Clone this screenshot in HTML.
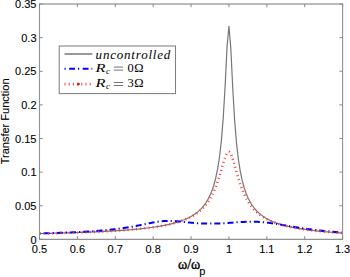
<!DOCTYPE html>
<html><head><meta charset="utf-8"><style>
html,body{margin:0;padding:0;background:#fff;}
body{width:350px;height:277px;overflow:hidden;}
svg{display:block;}
text{font-family:"Liberation Sans",sans-serif;font-size:11px;fill:#000;stroke:#000;stroke-width:0.1px;}
.ser{font-family:"Liberation Serif",serif;stroke:none;}
</style></head><body>
<svg width="350" height="277" viewBox="0 0 350 277">
<rect width="350" height="277" fill="#fff"/>
<g fill="none" stroke-linejoin="round">
<path d="M39.50,233.56 L41.39,233.52 L43.29,233.48 L45.18,233.44 L47.08,233.40 L48.97,233.36 L50.87,233.31 L52.76,233.27 L54.66,233.22 L56.55,233.17 L58.44,233.12 L60.34,233.07 L62.23,233.02 L64.13,232.97 L66.02,232.92 L67.92,232.86 L69.81,232.80 L71.70,232.74 L73.60,232.68 L75.49,232.62 L77.39,232.56 L79.28,232.49 L81.18,232.43 L83.07,232.36 L84.97,232.29 L86.86,232.22 L88.75,232.14 L90.65,232.06 L92.54,231.99 L94.44,231.90 L96.33,231.82 L98.23,231.73 L100.12,231.64 L102.01,231.55 L103.91,231.46 L105.80,231.36 L107.70,231.26 L109.59,231.15 L111.49,231.05 L113.38,230.93 L115.27,230.82 L117.17,230.70 L119.06,230.57 L120.96,230.45 L122.85,230.31 L124.75,230.17 L126.64,230.03 L128.54,229.88 L130.43,229.73 L132.32,229.57 L134.22,229.40 L136.11,229.22 L138.01,229.04 L139.90,228.85 L141.80,228.65 L143.69,228.45 L145.59,228.23 L147.48,228.00 L149.37,227.76 L151.27,227.51 L153.16,227.25 L155.06,226.97 L156.95,226.68 L158.85,226.38 L160.74,226.05 L162.63,225.71 L164.53,225.35 L166.42,224.96 L168.32,224.55 L170.21,224.12 L172.11,223.65 L174.00,223.16 L175.90,222.62 L177.79,222.05 L179.68,221.44 L181.58,220.77 L183.47,220.05 L185.37,219.27 L187.26,218.42 L189.16,217.49 L191.05,216.46 L192.94,215.33 L194.84,214.08 L196.73,212.68 L198.63,211.11 L200.52,209.33 L202.42,207.31 L204.31,204.99 L206.20,202.29 L208.10,199.13 L209.99,195.37 L211.89,190.82 L213.78,185.24 L215.68,178.23 L217.57,169.20 L219.47,157.22 L221.36,140.84 L223.25,117.77 L225.15,85.51 L227.04,46.87 L228.94,26.23 L230.83,48.60 L232.73,87.82 L234.62,120.15 L236.52,143.19 L238.41,159.54 L240.30,171.49 L242.20,180.49 L244.09,187.49 L245.99,193.06 L247.88,197.60 L249.78,201.35 L251.67,204.51 L253.56,207.20 L255.46,209.52 L257.35,211.54 L259.25,213.32 L261.14,214.89 L263.04,216.29 L264.93,217.54 L266.83,218.67 L268.72,219.69 L270.61,220.63 L272.51,221.48 L274.40,222.26 L276.30,222.98 L278.19,223.64 L280.09,224.26 L281.98,224.83 L283.87,225.36 L285.77,225.86 L287.66,226.32 L289.56,226.76 L291.45,227.17 L293.35,227.56 L295.24,227.92 L297.14,228.26 L299.03,228.59 L300.92,228.90 L302.82,229.19 L304.71,229.46 L306.61,229.73 L308.50,229.98 L310.40,230.22 L312.29,230.45 L314.18,230.67 L316.08,230.87 L317.97,231.07 L319.87,231.26 L321.76,231.45 L323.66,231.62 L325.55,231.79 L327.44,231.96 L329.34,232.11 L331.23,232.26 L333.13,232.41 L335.02,232.55 L336.92,232.68 L338.81,232.81 L340.71,232.94 L342.60,233.06 L342.60,233.06" stroke="#777" stroke-width="1.2"/>
<path d="M39.50,233.48 L40.26,233.46 L41.02,233.44 L41.77,233.42 L42.53,233.40 L43.29,233.38 L44.05,233.35 L44.80,233.33 L45.56,233.31 L46.32,233.29 L47.08,233.27 L47.84,233.24 L48.59,233.22 L49.35,233.20 L50.11,233.17 L50.87,233.15 L51.62,233.13 L52.38,233.10 L53.14,233.08 L53.90,233.05 L54.66,233.03 L55.41,233.00 L56.17,232.98 L56.93,232.95 L57.69,232.92 L58.44,232.90 L59.20,232.87 L59.96,232.84 L60.72,232.81 L61.47,232.79 L62.23,232.76 L62.99,232.73 L63.75,232.70 L64.51,232.67 L65.26,232.64 L66.02,232.61 L66.78,232.58 L67.54,232.54 L68.29,232.51 L69.05,232.48 L69.81,232.45 L70.57,232.41 L71.33,232.38 L72.08,232.35 L72.84,232.31 L73.60,232.28 L74.36,232.24 L75.11,232.20 L75.87,232.17 L76.63,232.13 L77.39,232.09 L78.15,232.05 L78.90,232.01 L79.66,231.97 L80.42,231.93 L81.18,231.89 L81.93,231.85 L82.69,231.81 L83.26,231.78 L83.83,231.74 L84.40,231.71 L84.97,231.68 L85.53,231.64 L86.10,231.61 L86.67,231.58 L87.24,231.54 L87.81,231.51 L88.37,231.47 L88.94,231.43 L89.51,231.40 L90.08,231.36 L90.65,231.32 L91.22,231.28 L91.78,231.25 L92.35,231.21 L92.92,231.17 L93.49,231.13 L94.06,231.09 L94.63,231.05 L95.19,231.00 L95.76,230.96 L96.33,230.92 L96.90,230.88 L97.47,230.83 L98.04,230.79 L98.60,230.74 L99.17,230.70 L99.74,230.65 L100.31,230.61 L100.88,230.56 L101.45,230.51 L102.01,230.46 L102.58,230.41 L103.15,230.36 L103.72,230.31 L104.29,230.26 L104.86,230.21 L105.42,230.16 L105.99,230.11 L106.56,230.05 L107.13,230.00 L107.70,229.94 L108.27,229.89 L108.83,229.83 L109.40,229.77 L109.97,229.71 L110.54,229.65 L111.11,229.59 L111.68,229.53 L112.24,229.47 L112.81,229.41 L113.38,229.34 L113.95,229.28 L114.52,229.21 L115.09,229.15 L115.65,229.08 L116.22,229.01 L116.79,228.94 L117.36,228.87 L117.93,228.80 L118.50,228.73 L119.06,228.65 L119.63,228.58 L120.20,228.50 L120.77,228.43 L121.34,228.35 L121.91,228.27 L122.47,228.19 L123.04,228.11 L123.61,228.03 L124.18,227.95 L124.75,227.86 L125.32,227.78 L125.88,227.69 L126.45,227.60 L127.02,227.51 L127.59,227.42 L128.16,227.33 L128.73,227.24 L129.29,227.15 L129.86,227.05 L130.43,226.96 L131.00,226.86 L131.57,226.76 L132.13,226.66 L132.70,226.56 L133.27,226.46 L133.84,226.35 L134.41,226.25 L134.98,226.14 L135.54,226.04 L136.11,225.93 L136.68,225.82 L137.25,225.71 L137.82,225.60 L138.39,225.49 L138.95,225.38 L139.52,225.26 L140.09,225.15 L140.66,225.04 L141.23,224.92 L141.80,224.80 L142.36,224.69 L142.93,224.57 L143.50,224.45 L144.07,224.33 L144.64,224.22 L145.21,224.10 L145.77,223.98 L146.34,223.86 L146.91,223.74 L147.48,223.62 L148.05,223.51 L148.62,223.39 L149.18,223.27 L149.75,223.16 L150.32,223.04 L150.89,222.93 L151.46,222.82 L152.03,222.71 L152.59,222.60 L153.16,222.49 L153.73,222.39 L154.30,222.29 L154.87,222.19 L155.44,222.09 L156.00,222.00 L156.57,221.90 L157.14,221.81 L157.71,221.73 L158.28,221.65 L158.85,221.57 L159.41,221.49 L159.98,221.42 L160.55,221.35 L161.12,221.29 L161.69,221.23 L162.26,221.18 L162.82,221.13 L163.39,221.08 L163.96,221.04 L164.53,221.00 L165.10,220.97 L165.85,220.93 L166.61,220.91 L167.37,220.89 L168.13,220.87 L168.89,220.87 L169.64,220.87 L170.40,220.89 L171.16,220.90 L171.92,220.93 L172.67,220.96 L173.43,221.00 L174.00,221.03 L174.57,221.07 L175.14,221.11 L175.71,221.15 L176.27,221.19 L176.84,221.24 L177.41,221.29 L177.98,221.34 L178.55,221.39 L179.12,221.44 L179.68,221.50 L180.25,221.56 L180.82,221.61 L181.39,221.67 L181.96,221.73 L182.53,221.79 L183.09,221.85 L183.66,221.92 L184.23,221.98 L184.80,222.04 L185.37,222.10 L185.94,222.16 L186.50,222.22 L187.07,222.28 L187.64,222.34 L188.21,222.40 L188.78,222.46 L189.35,222.51 L189.91,222.57 L190.48,222.63 L191.05,222.68 L191.62,222.73 L192.19,222.78 L192.75,222.83 L193.32,222.88 L193.89,222.93 L194.46,222.98 L195.03,223.02 L195.60,223.07 L196.16,223.11 L196.73,223.15 L197.30,223.19 L197.87,223.22 L198.44,223.26 L199.01,223.29 L199.57,223.33 L200.33,223.37 L201.09,223.40 L201.85,223.44 L202.61,223.47 L203.36,223.49 L204.12,223.52 L204.88,223.54 L205.64,223.56 L206.39,223.58 L207.15,223.59 L207.91,223.60 L208.67,223.60 L209.43,223.61 L210.18,223.61 L210.94,223.61 L211.70,223.60 L212.46,223.59 L213.21,223.58 L213.97,223.57 L214.73,223.56 L215.49,223.54 L216.25,223.52 L217.00,223.49 L217.76,223.47 L218.52,223.44 L219.28,223.41 L220.03,223.38 L220.79,223.35 L221.55,223.31 L222.31,223.27 L223.06,223.23 L223.82,223.19 L224.39,223.16 L224.96,223.13 L225.53,223.09 L226.10,223.06 L226.66,223.02 L227.23,222.99 L227.80,222.95 L228.37,222.91 L228.94,222.88 L229.51,222.84 L230.07,222.80 L230.64,222.76 L231.21,222.72 L231.78,222.68 L232.35,222.64 L232.92,222.60 L233.48,222.56 L234.05,222.52 L234.62,222.48 L235.19,222.44 L235.76,222.40 L236.33,222.37 L236.89,222.33 L237.46,222.29 L238.03,222.25 L238.60,222.21 L239.17,222.18 L239.74,222.14 L240.30,222.11 L240.87,222.07 L241.44,222.04 L242.01,222.01 L242.77,221.97 L243.52,221.93 L244.28,221.89 L245.04,221.86 L245.80,221.83 L246.56,221.80 L247.31,221.78 L248.07,221.76 L248.83,221.74 L249.59,221.72 L250.34,221.71 L251.10,221.71 L251.86,221.71 L252.62,221.71 L253.37,221.71 L254.13,221.72 L254.89,221.74 L255.65,221.76 L256.41,221.78 L257.16,221.81 L257.92,221.84 L258.68,221.88 L259.44,221.93 L260.01,221.96 L260.57,222.00 L261.14,222.04 L261.71,222.08 L262.28,222.13 L262.85,222.17 L263.42,222.22 L263.98,222.28 L264.55,222.33 L265.12,222.39 L265.69,222.45 L266.26,222.51 L266.83,222.58 L267.39,222.64 L267.96,222.71 L268.53,222.78 L269.10,222.86 L269.67,222.93 L270.23,223.01 L270.80,223.08 L271.37,223.16 L271.94,223.24 L272.51,223.33 L273.08,223.41 L273.64,223.50 L274.21,223.58 L274.78,223.67 L275.35,223.76 L275.92,223.85 L276.49,223.94 L277.05,224.03 L277.62,224.13 L278.19,224.22 L278.76,224.32 L279.33,224.41 L279.90,224.51 L280.46,224.60 L281.03,224.70 L281.60,224.80 L282.17,224.89 L282.74,224.99 L283.31,225.09 L283.87,225.19 L284.44,225.29 L285.01,225.39 L285.58,225.48 L286.15,225.58 L286.72,225.68 L287.28,225.78 L287.85,225.88 L288.42,225.97 L288.99,226.07 L289.56,226.17 L290.13,226.26 L290.69,226.36 L291.26,226.46 L291.83,226.55 L292.40,226.65 L292.97,226.74 L293.54,226.84 L294.10,226.93 L294.67,227.02 L295.24,227.12 L295.81,227.21 L296.38,227.30 L296.95,227.39 L297.51,227.48 L298.08,227.57 L298.65,227.66 L299.22,227.75 L299.79,227.84 L300.36,227.92 L300.92,228.01 L301.49,228.09 L302.06,228.18 L302.63,228.26 L303.20,228.35 L303.77,228.43 L304.33,228.51 L304.90,228.59 L305.47,228.67 L306.04,228.75 L306.61,228.83 L307.18,228.91 L307.74,228.99 L308.31,229.06 L308.88,229.14 L309.45,229.22 L310.02,229.29 L310.59,229.36 L311.15,229.44 L311.72,229.51 L312.29,229.58 L312.86,229.65 L313.43,229.72 L313.99,229.79 L314.56,229.86 L315.13,229.93 L315.70,230.00 L316.27,230.07 L316.84,230.13 L317.40,230.20 L317.97,230.26 L318.54,230.33 L319.11,230.39 L319.68,230.45 L320.25,230.52 L320.81,230.58 L321.38,230.64 L321.95,230.70 L322.52,230.76 L323.09,230.82 L323.66,230.88 L324.22,230.93 L324.79,230.99 L325.36,231.05 L325.93,231.11 L326.50,231.16 L327.07,231.22 L327.63,231.27 L328.20,231.32 L328.77,231.38 L329.34,231.43 L329.91,231.48 L330.48,231.53 L331.04,231.59 L331.61,231.64 L332.18,231.69 L332.75,231.74 L333.32,231.79 L333.89,231.83 L334.45,231.88 L335.02,231.93 L335.59,231.98 L336.16,232.02 L336.73,232.07 L337.30,232.12 L337.86,232.16 L338.43,232.21 L339.00,232.25 L339.57,232.29 L340.14,232.34 L340.71,232.38 L341.27,232.42 L341.84,232.47 L342.41,232.51 L342.60,232.52" stroke="#0000ff" stroke-width="2" stroke-dasharray="6 3 1.2 3" stroke-dashoffset="9"/>
<path d="M39.50,233.52 L40.26,233.50 L41.02,233.49 L41.77,233.47 L42.53,233.46 L43.29,233.44 L44.05,233.42 L44.80,233.41 L45.56,233.39 L46.32,233.37 L47.08,233.36 L47.84,233.34 L48.59,233.32 L49.35,233.30 L50.11,233.29 L50.87,233.27 L51.62,233.25 L52.38,233.23 L53.14,233.21 L53.90,233.20 L54.66,233.18 L55.41,233.16 L56.17,233.14 L56.93,233.12 L57.69,233.10 L58.44,233.08 L59.20,233.06 L59.96,233.04 L60.72,233.02 L61.47,233.00 L62.23,232.98 L62.99,232.96 L63.75,232.94 L64.51,232.91 L65.26,232.89 L66.02,232.87 L66.78,232.85 L67.54,232.83 L68.29,232.80 L69.05,232.78 L69.81,232.76 L70.57,232.73 L71.33,232.71 L72.08,232.69 L72.84,232.66 L73.60,232.64 L74.36,232.61 L75.11,232.59 L75.87,232.56 L76.63,232.54 L77.39,232.51 L78.15,232.49 L78.90,232.46 L79.66,232.44 L80.42,232.41 L81.18,232.38 L81.93,232.35 L82.69,232.33 L83.45,232.30 L84.21,232.27 L84.97,232.24 L85.72,232.21 L86.48,232.18 L87.24,232.15 L88.00,232.12 L88.75,232.09 L89.51,232.06 L90.27,232.03 L91.03,232.00 L91.78,231.97 L92.54,231.94 L93.30,231.91 L94.06,231.87 L94.82,231.84 L95.57,231.81 L96.33,231.77 L97.09,231.74 L97.85,231.70 L98.60,231.67 L99.36,231.63 L100.12,231.60 L100.88,231.56 L101.64,231.52 L102.39,231.49 L103.15,231.45 L103.91,231.41 L104.67,231.37 L105.42,231.33 L106.18,231.29 L106.94,231.25 L107.70,231.21 L108.46,231.17 L109.21,231.13 L109.78,231.09 L110.35,231.06 L110.92,231.03 L111.49,231.00 L112.05,230.96 L112.62,230.93 L113.19,230.90 L113.76,230.86 L114.33,230.83 L114.90,230.79 L115.46,230.76 L116.03,230.72 L116.60,230.69 L117.17,230.65 L117.74,230.61 L118.31,230.58 L118.87,230.54 L119.44,230.50 L120.01,230.46 L120.58,230.42 L121.15,230.38 L121.72,230.35 L122.28,230.31 L122.85,230.26 L123.42,230.22 L123.99,230.18 L124.56,230.14 L125.13,230.10 L125.69,230.06 L126.26,230.01 L126.83,229.97 L127.40,229.92 L127.97,229.88 L128.54,229.83 L129.10,229.79 L129.67,229.74 L130.24,229.70 L130.81,229.65 L131.38,229.60 L131.95,229.55 L132.51,229.50 L133.08,229.45 L133.65,229.40 L134.22,229.35 L134.79,229.30 L135.36,229.25 L135.92,229.20 L136.49,229.14 L137.06,229.09 L137.63,229.03 L138.20,228.98 L138.77,228.92 L139.33,228.87 L139.90,228.81 L140.47,228.75 L141.04,228.69 L141.61,228.63 L142.18,228.57 L142.74,228.51 L143.31,228.45 L143.88,228.38 L144.45,228.32 L145.02,228.26 L145.59,228.19 L146.15,228.12 L146.72,228.06 L147.29,227.99 L147.86,227.92 L148.43,227.85 L148.99,227.78 L149.56,227.70 L150.13,227.63 L150.70,227.56 L151.27,227.48 L151.84,227.40 L152.40,227.33 L152.97,227.25 L153.54,227.17 L154.11,227.09 L154.68,227.00 L155.25,226.92 L155.81,226.83 L156.38,226.75 L156.95,226.66 L157.52,226.57 L158.09,226.48 L158.66,226.39 L159.22,226.29 L159.79,226.20 L160.36,226.10 L160.93,226.01 L161.50,225.91 L162.07,225.80 L162.63,225.70 L163.20,225.60 L163.77,225.49 L164.34,225.38 L164.91,225.27 L165.48,225.16 L166.04,225.04 L166.61,224.93 L167.18,224.81 L167.75,224.69 L168.32,224.57 L168.89,224.44 L169.45,224.31 L170.02,224.18 L170.59,224.05 L171.16,223.92 L171.73,223.78 L172.30,223.64 L172.86,223.50 L173.43,223.35 L174.00,223.20 L174.57,223.05 L175.14,222.90 L175.71,222.74 L176.27,222.58 L176.84,222.41 L177.41,222.25 L177.98,222.08 L178.55,221.90 L179.12,221.72 L179.68,221.54 L180.25,221.35 L180.82,221.16 L181.39,220.97 L181.96,220.77 L182.53,220.56 L183.09,220.35 L183.66,220.14 L184.23,219.92 L184.80,219.69 L185.37,219.46 L185.94,219.23 L186.50,218.99 L187.07,218.74 L187.64,218.49 L188.21,218.22 L188.78,217.96 L189.35,217.68 L189.91,217.40 L190.48,217.11 L191.05,216.81 L191.62,216.51 L192.19,216.19 L192.75,215.87 L193.32,215.54 L193.70,215.31 L194.08,215.08 L194.46,214.84 L194.84,214.60 L195.22,214.36 L195.60,214.10 L195.98,213.85 L196.35,213.59 L196.73,213.32 L197.11,213.05 L197.49,212.77 L197.87,212.49 L198.25,212.20 L198.63,211.90 L199.01,211.60 L199.39,211.29 L199.76,210.97 L200.14,210.65 L200.52,210.32 L200.90,209.98 L201.28,209.63 L201.66,209.28 L202.04,208.92 L202.42,208.55 L202.80,208.17 L203.17,207.78 L203.55,207.38 L203.93,206.97 L204.31,206.55 L204.69,206.12 L205.07,205.68 L205.45,205.23 L205.83,204.77 L206.20,204.29 L206.58,203.80 L206.96,203.30 L207.34,202.79 L207.72,202.26 L208.10,201.72 L208.48,201.17 L208.86,200.59 L209.24,200.01 L209.61,199.40 L209.99,198.78 L210.37,198.14 L210.75,197.49 L211.13,196.81 L211.51,196.12 L211.89,195.40 L212.27,194.67 L212.65,193.91 L213.02,193.13 L213.40,192.33 L213.78,191.51 L213.97,191.09 L214.16,190.66 L214.35,190.23 L214.54,189.79 L214.73,189.34 L214.92,188.89 L215.11,188.43 L215.30,187.97 L215.49,187.50 L215.68,187.02 L215.87,186.54 L216.06,186.05 L216.25,185.55 L216.43,185.04 L216.62,184.53 L216.81,184.02 L217.00,183.49 L217.19,182.96 L217.38,182.42 L217.57,181.88 L217.76,181.32 L217.95,180.77 L218.14,180.20 L218.33,179.63 L218.52,179.05 L218.71,178.46 L218.90,177.87 L219.09,177.28 L219.28,176.67 L219.47,176.06 L219.66,175.45 L219.84,174.83 L220.03,174.20 L220.22,173.57 L220.41,172.94 L220.60,172.30 L220.79,171.65 L220.98,171.01 L221.17,170.36 L221.36,169.71 L221.55,169.05 L221.74,168.40 L221.93,167.74 L222.12,167.08 L222.31,166.43 L222.50,165.77 L222.69,165.12 L222.88,164.47 L223.06,163.82 L223.25,163.18 L223.44,162.55 L223.63,161.92 L223.82,161.30 L224.01,160.69 L224.20,160.08 L224.39,159.49 L224.58,158.91 L224.77,158.35 L224.96,157.80 L225.15,157.27 L225.34,156.75 L225.53,156.25 L225.72,155.78 L225.91,155.32 L226.10,154.89 L226.47,154.10 L226.85,153.41 L227.23,152.84 L227.61,152.39 L227.99,152.07 L228.56,151.84 L229.13,151.92 L229.51,152.14 L229.88,152.50 L230.26,152.99 L230.64,153.60 L231.02,154.33 L231.40,155.16 L231.59,155.62 L231.78,156.10 L231.97,156.59 L232.16,157.11 L232.35,157.65 L232.54,158.21 L232.73,158.78 L232.92,159.37 L233.11,159.97 L233.29,160.59 L233.48,161.21 L233.67,161.85 L233.86,162.50 L234.05,163.15 L234.24,163.81 L234.43,164.47 L234.62,165.15 L234.81,165.82 L235.00,166.50 L235.19,167.17 L235.38,167.85 L235.57,168.54 L235.76,169.22 L235.95,169.89 L236.14,170.57 L236.33,171.25 L236.52,171.92 L236.70,172.59 L236.89,173.25 L237.08,173.92 L237.27,174.57 L237.46,175.22 L237.65,175.87 L237.84,176.51 L238.03,177.15 L238.22,177.78 L238.41,178.40 L238.60,179.02 L238.79,179.63 L238.98,180.23 L239.17,180.83 L239.36,181.42 L239.55,182.00 L239.74,182.58 L239.92,183.15 L240.11,183.71 L240.30,184.26 L240.49,184.81 L240.68,185.35 L240.87,185.89 L241.06,186.41 L241.25,186.93 L241.44,187.44 L241.63,187.95 L241.82,188.45 L242.01,188.94 L242.20,189.42 L242.39,189.90 L242.58,190.37 L242.77,190.84 L242.96,191.30 L243.15,191.75 L243.33,192.19 L243.52,192.63 L243.71,193.06 L243.90,193.49 L244.09,193.91 L244.28,194.32 L244.66,195.13 L245.04,195.92 L245.42,196.68 L245.80,197.43 L246.18,198.15 L246.56,198.85 L246.93,199.53 L247.31,200.19 L247.69,200.84 L248.07,201.46 L248.45,202.07 L248.83,202.67 L249.21,203.24 L249.59,203.80 L249.97,204.35 L250.34,204.88 L250.72,205.40 L251.10,205.90 L251.48,206.39 L251.86,206.87 L252.24,207.34 L252.62,207.79 L253.00,208.24 L253.37,208.67 L253.75,209.09 L254.13,209.50 L254.51,209.90 L254.89,210.29 L255.27,210.68 L255.65,211.05 L256.03,211.41 L256.41,211.77 L256.78,212.12 L257.16,212.46 L257.54,212.79 L257.92,213.12 L258.30,213.43 L258.68,213.75 L259.06,214.05 L259.44,214.35 L259.82,214.64 L260.19,214.92 L260.57,215.20 L260.95,215.48 L261.33,215.74 L261.71,216.01 L262.09,216.26 L262.47,216.52 L262.85,216.76 L263.23,217.01 L263.60,217.24 L263.98,217.48 L264.36,217.70 L264.74,217.93 L265.31,218.26 L265.88,218.57 L266.45,218.88 L267.01,219.19 L267.58,219.48 L268.15,219.76 L268.72,220.04 L269.29,220.31 L269.86,220.58 L270.42,220.84 L270.99,221.09 L271.56,221.33 L272.13,221.57 L272.70,221.80 L273.27,222.03 L273.83,222.25 L274.40,222.47 L274.97,222.68 L275.54,222.89 L276.11,223.09 L276.68,223.29 L277.24,223.48 L277.81,223.67 L278.38,223.85 L278.95,224.03 L279.52,224.21 L280.09,224.39 L280.65,224.55 L281.22,224.72 L281.79,224.88 L282.36,225.04 L282.93,225.20 L283.50,225.35 L284.06,225.50 L284.63,225.65 L285.20,225.79 L285.77,225.93 L286.34,226.07 L286.91,226.21 L287.47,226.34 L288.04,226.47 L288.61,226.60 L289.18,226.73 L289.75,226.85 L290.32,226.98 L290.88,227.10 L291.45,227.21 L292.02,227.33 L292.59,227.44 L293.16,227.55 L293.73,227.66 L294.29,227.77 L294.86,227.88 L295.43,227.98 L296.00,228.08 L296.57,228.18 L297.14,228.28 L297.70,228.38 L298.27,228.48 L298.84,228.57 L299.41,228.66 L299.98,228.76 L300.54,228.85 L301.11,228.93 L301.68,229.02 L302.25,229.11 L302.82,229.19 L303.39,229.28 L303.95,229.36 L304.52,229.44 L305.09,229.52 L305.66,229.60 L306.23,229.68 L306.80,229.75 L307.36,229.83 L307.93,229.90 L308.50,229.97 L309.07,230.05 L309.64,230.12 L310.21,230.19 L310.77,230.26 L311.34,230.33 L311.91,230.39 L312.48,230.46 L313.05,230.52 L313.62,230.59 L314.18,230.65 L314.75,230.72 L315.32,230.78 L315.89,230.84 L316.46,230.90 L317.03,230.96 L317.59,231.02 L318.16,231.08 L318.73,231.13 L319.30,231.19 L319.87,231.25 L320.44,231.30 L321.00,231.36 L321.57,231.41 L322.14,231.47 L322.71,231.52 L323.28,231.57 L323.85,231.62 L324.41,231.67 L324.98,231.72 L325.55,231.77 L326.12,231.82 L326.69,231.87 L327.26,231.92 L327.82,231.97 L328.39,232.01 L328.96,232.06 L329.53,232.11 L330.10,232.15 L330.67,232.20 L331.23,232.24 L331.80,232.28 L332.37,232.33 L332.94,232.37 L333.51,232.41 L334.08,232.45 L334.64,232.50 L335.21,232.54 L335.78,232.58 L336.35,232.62 L336.92,232.66 L337.49,232.70 L338.05,232.74 L338.62,232.78 L339.19,232.81 L339.76,232.85 L340.33,232.89 L340.90,232.93 L341.46,232.96 L342.03,233.00 L342.60,233.03 L342.60,233.03" stroke="#ff4040" stroke-width="2.6" stroke-dasharray="1 3.2"/>
</g>
<path d="M39.0,4.0 H343.1" stroke="#777" stroke-width="1" fill="none"/>
<path d="M39.5,4.0 V239.4 M342.6,4.0 V239.4 M39.0,239.4 H343.1" stroke="#919191" stroke-width="1.1" fill="none"/>
<path d="M39.50,239.4 v-3.2 M39.50,4.0 v3.2 M77.39,239.4 v-3.2 M77.39,4.0 v3.2 M115.27,239.4 v-3.2 M115.27,4.0 v3.2 M153.16,239.4 v-3.2 M153.16,4.0 v3.2 M191.05,239.4 v-3.2 M191.05,4.0 v3.2 M228.94,239.4 v-3.2 M228.94,4.0 v3.2 M266.83,239.4 v-3.2 M266.83,4.0 v3.2 M304.71,239.4 v-3.2 M304.71,4.0 v3.2 M342.60,239.4 v-3.2 M342.60,4.0 v3.2 M39.5,239.40 h3.2 M342.6,239.40 h-3.2 M39.5,205.77 h3.2 M342.6,205.77 h-3.2 M39.5,172.14 h3.2 M342.6,172.14 h-3.2 M39.5,138.51 h3.2 M342.6,138.51 h-3.2 M39.5,104.89 h3.2 M342.6,104.89 h-3.2 M39.5,71.26 h3.2 M342.6,71.26 h-3.2 M39.5,37.63 h3.2 M342.6,37.63 h-3.2 M39.5,4.00 h3.2 M342.6,4.00 h-3.2" stroke="#888" stroke-width="1" fill="none"/>
<text x="39.50" y="252.7" text-anchor="middle">0.5</text><text x="77.39" y="252.7" text-anchor="middle">0.6</text><text x="115.27" y="252.7" text-anchor="middle">0.7</text><text x="153.16" y="252.7" text-anchor="middle">0.8</text><text x="191.05" y="252.7" text-anchor="middle">0.9</text><text x="228.94" y="252.7" text-anchor="middle">1</text><text x="266.83" y="252.7" text-anchor="middle">1.1</text><text x="304.71" y="252.7" text-anchor="middle">1.2</text><text x="342.60" y="252.7" text-anchor="middle">1.3</text>
<text x="36.5" y="243.60" text-anchor="end">0</text><text x="36.5" y="209.97" text-anchor="end">0.05</text><text x="36.5" y="176.34" text-anchor="end">0.1</text><text x="36.5" y="142.71" text-anchor="end">0.15</text><text x="36.5" y="109.09" text-anchor="end">0.2</text><text x="36.5" y="75.46" text-anchor="end">0.25</text><text x="36.5" y="41.83" text-anchor="end">0.3</text><text x="36.5" y="8.20" text-anchor="end">0.35</text>
<text transform="translate(8.6,121.4) rotate(-90)" text-anchor="middle">Transfer Function</text>
<g>
<text class="ser" x="178" y="268.7" style="font-size:14px;stroke:#000;stroke-width:0.35px">ω/ω</text><text x="199.3" y="274.6" style="font-size:11px">p</text>
</g>
<rect x="59.2" y="46" width="116.3" height="47.6" fill="#fff" stroke="#808080" stroke-width="1.05"/>
<path d="M64.5,54 H92.3" stroke="#555" stroke-width="1.2"/>
<path d="M64.5,68.7 H92.3" stroke="#0000ff" stroke-width="2" stroke-dasharray="1.2 3.5 5.8 3" stroke-dashoffset="0"/>
<path d="M64.5,84.1 H92.3" stroke="#ff4040" stroke-width="2.6" stroke-dasharray="1 3.2"/>
<circle cx="78.5" cy="84.1" r="1.3" fill="#ff0000"/>
<text class="ser" x="95.6" y="58.5" style="font-size:13px;letter-spacing:0.8px" font-style="italic">uncontrolled</text>
<g class="ser">
<text class="ser" x="95.4" y="71.7" style="font-size:12.5px" font-style="italic" transform="translate(95.4,0) scale(1.3,1) translate(-95.4,0)">R</text>
<text class="ser" x="106" y="73.8" style="font-size:9px" font-style="italic">c</text>
<path d="M113.8,67.1 H123.1 M113.8,70.1 H123.1" stroke="#000" stroke-width="0.55"/>
<text class="ser" x="127.4" y="71.8" style="font-size:12.5px">0</text>
<text class="ser" x="134.3" y="71.8" style="font-size:12.5px">Ω</text>
<text class="ser" x="95.4" y="87.1" style="font-size:12.5px" font-style="italic" transform="translate(95.4,0) scale(1.3,1) translate(-95.4,0)">R</text>
<text class="ser" x="106" y="89.2" style="font-size:9px" font-style="italic">c</text>
<path d="M113.8,82.5 H123.1 M113.8,85.5 H123.1" stroke="#000" stroke-width="0.55"/>
<text class="ser" x="127.4" y="87.2" style="font-size:12.5px">3</text>
<text class="ser" x="134.3" y="87.2" style="font-size:12.5px">Ω</text>
</g>
</svg>
</body></html>
